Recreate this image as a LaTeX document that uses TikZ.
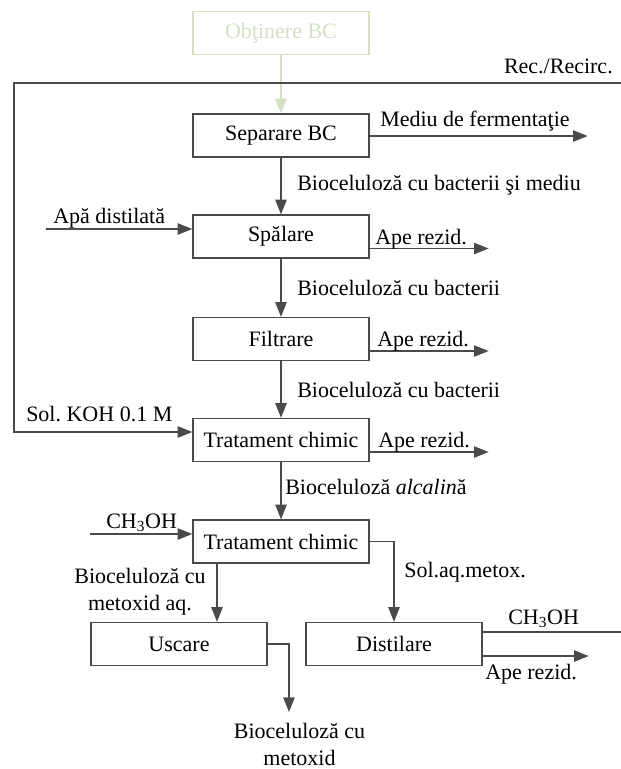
\documentclass[tikz,border=0pt]{standalone}
\usepackage{fontspec}
\setmainfont{Liberation Serif}
\frenchspacing
\usetikzlibrary{arrows.meta, calc, positioning}
\definecolor{linegray}{HTML}{4A4A4A}
\definecolor{palegreen}{HTML}{D3E0C2}
\tikzset{
  >={Triangle[length=11pt, width=8.5pt]},
  every picture/.style={line join=miter, font=\fontsize{16.5}{20.25}\selectfont},
  proc/.style={draw=linegray, line width=1pt, minimum width=132pt, minimum height=32.25pt, inner sep=0pt},
  flow/.style={->, draw=linegray, line width=1pt},
  pipe/.style={draw=linegray, line width=1pt},
  lbl/.style={inner sep=0pt},
  % two-line labels
  lbl2/.style={inner sep=0pt, align=center},
}
\newcommand{\bcel}{Bioceluloz\u{a}}
\begin{document}
\begin{tikzpicture}[x=0.75pt, y=-0.75pt]
  \useasboundingbox (0,0) rectangle (621,769);
  % process boxes
  \node[proc, draw=palegreen, text=palegreen] (obt) at (281,33) {Obţinere BC};
  \node[proc] (sep) at (281,135.5) {Separare BC};
  \node[proc] (spa) at (281,236.5) {Spălare};
  \node[proc] (fil) at (281,339) {Filtrare};
  \node[proc] (tr1) at (281,440) {Tratament chimic};
  \node[proc] (tr2) at (281,541.5) {Tratament chimic};
  \node[proc] (usc) at (179,644) {Uscare};
  \node[proc] (dis) at (394,644) {Distilare};
  \coordinate (rc) at (621,83);
  \coordinate (rcl) at (14,83);
  \coordinate (uout) at (289,712);
  % main line
  \draw[flow, draw=palegreen] (obt) -- (sep);
  \draw[flow] (sep) -- (spa);
  \draw[flow] (spa) -- (fil);
  \draw[flow] (fil) -- (tr1);
  \draw[flow] (tr1) -- (tr2);
  \draw[flow] ($(tr2.south)+(-64,0)$) coordinate (t2s) -- (t2s |- usc.north);
  \draw[flow] (tr2.east) -| (dis.north);
  \draw[flow] (usc.east) -| (uout);
  % recirculation
  \draw[flow] (rc) -- (rcl) |- ($(tr1.west)+(0,-8)$);
  % inputs and outputs
  \draw[flow] ($(sep.east)+(0,0.5)$) -- ++(218,0);
  \draw[flow] ($(spa.west)+(-146,-7.5)$) -- ($(spa.west)+(0,-7.5)$);
  \draw[flow] ($(spa.east)+(0,12)$) -- ++(119,0);
  \draw[flow] ($(fil.east)+(0,12)$) -- ++(119,0);
  \draw[flow] ($(tr1.east)+(0,12)$) -- ++(119,0);
  \draw[flow] ($(tr2.west)+(-102,-7.5)$) -- ($(tr2.west)+(0,-7.5)$);
  \draw[pipe] ($(dis.east)+(0,-12)$) -- (621,632);
  \draw[flow] ($(dis.east)+(0,12)$) -- ++(106,0);
  % labels
  \node[lbl, anchor=base east] (lrc) at (613,73) {Rec./Recirc.};
  \node[lbl, anchor=base west] (lmed) at (380,126) {Mediu de fermentaţie};
  \node[lbl, anchor=base west] (lb1) at (297,190) {\bcel{} cu bacterii şi mediu};
  \node[lbl, anchor=base west] (lapa) at (53,223) {Apă distilată};
  \node[lbl, anchor=base west] (lar1) at (375,244) {Ape rezid.};
  \node[lbl, anchor=base west] (lb2) at (297,295) {\bcel{} cu bacterii};
  \node[lbl, anchor=base west] (lar2) at (377,346) {Ape rezid.};
  \node[lbl, anchor=base west] (lb3) at (297,397) {\bcel{} cu bacterii};
  \node[lbl, anchor=base west] (lkoh) at (26,421) {Sol. KOH 0.1 M};
  \node[lbl, anchor=base west] (lar3) at (378,447) {Ape rezid.};
  \node[lbl, anchor=base west] (lalc) at (285,494) {\bcel{} \textit{alcalin}\u{a}};
  \node[lbl, anchor=base west] (lch1) at (106,528) {CH\textsubscript{3}OH};
  \node[lbl, anchor=base west] (lmet) at (404,577) {Sol.aq.metox.};
  \node[lbl2] (lbm) at (140,591.5) {\bcel{} cu\\metoxid aq.};
  \node[lbl2] (lprod) at (299.5,744.5) {\bcel{} cu\\metoxid};
  \node[lbl, anchor=base west] (lch2) at (508,624) {CH\textsubscript{3}OH};
  \node[lbl, anchor=base west] (lar4) at (485,679) {Ape rezid.};
\end{tikzpicture}
\end{document}
